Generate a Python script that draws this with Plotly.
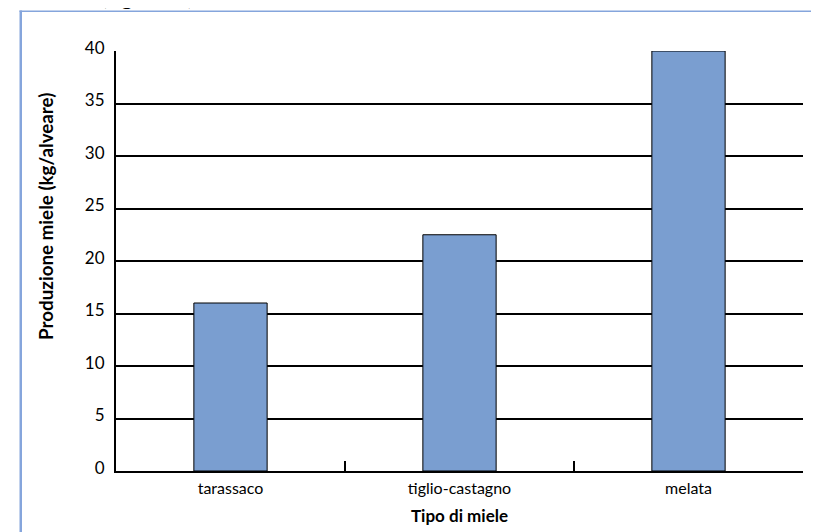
import plotly.graph_objects as go

categories = ["tarassaco", "tiglio-castagno", "melata"]
values = [16, 22.5, 40]
y_ticks = [0, 5, 10, 15, 20, 25, 30, 35, 40]

# the page body adds an 8px margin; lay the figure out in page pixels
OFF = 8
W, H = 819 - OFF, 532 - OFF
ML, MT = 116 - OFF, 51 - OFF
PW, PH = 687, 420
MR, MB = W - ML - PW, H - MT - PH


def px(x):
    return (x - OFF - ML) / PW


def py(y):
    return (MT + PH - (y - OFF)) / PH


FONT = "Lato, 'Open Sans', sans-serif"
BAR = "#7a9ed0"
FRAME = "#85a5dc"

fig = go.Figure(
    go.Bar(
        x=categories,
        y=values,
        marker=dict(color=BAR, line=dict(color="black", width=1)),
        width=0.32,
    )
)

shapes = [
    dict(type="rect", xref="paper", yref="paper", x0=px(19.5), x1=px(22), y0=py(10.5), y1=py(545),
         fillcolor=FRAME, line=dict(width=0), layer="above"),
    dict(type="rect", xref="paper", yref="paper", x0=px(19.5), x1=px(830), y0=py(10.5), y1=py(12),
         fillcolor=FRAME, line=dict(width=0), layer="above"),
]

annotations = [
    dict(text="(figura 1)", xref="paper", yref="paper", x=px(99), y=py(12),
         xanchor="left", yanchor="bottom", showarrow=False,
         font=dict(family=FONT, size=24, color="black")),
    dict(text="<b>Produzione miele (kg/alveare)</b>", xref="paper", yref="paper",
         x=px(45), y=py(217), xanchor="center", yanchor="middle", textangle=-90,
         showarrow=False, font=dict(family=FONT, size=18.8, color="black")),
    dict(text="<b>Tipo di miele</b>", xref="paper", yref="paper",
         x=0.5, y=py(515), xanchor="center", yanchor="middle",
         showarrow=False, font=dict(family=FONT, size=17, color="black")),
]

fig.update_layout(
    width=W,
    height=H,
    margin=dict(l=ML, r=MR, t=MT, b=MB, pad=0, autoexpand=False),
    paper_bgcolor="white",
    plot_bgcolor="white",
    showlegend=False,
    font=dict(family=FONT, size=17, color="black"),
    shapes=shapes,
    annotations=annotations,
    xaxis=dict(
        type="category",
        automargin=False,
        tickson="boundaries",
        ticks="inside",
        ticklen=10,
        tickwidth=2,
        tickcolor="black",
        showline=True,
        linewidth=2,
        linecolor="black",
        showgrid=False,
        ticklabelstandoff=2,
        tickfont=dict(family=FONT, size=16),
    ),
    yaxis=dict(
        range=[0, 40],
        automargin=False,
        tickvals=y_ticks,
        ticktext=[str(v) for v in y_ticks],
        showgrid=True,
        gridcolor="black",
        gridwidth=2,
        zeroline=False,
        showline=True,
        linewidth=2,
        linecolor="black",
        ticks="",
        ticklabelstandoff=6,
        ticklabelshift=-3,
        tickfont=dict(family=FONT, size=17),
    ),
)

fig.write_html("out.html")
